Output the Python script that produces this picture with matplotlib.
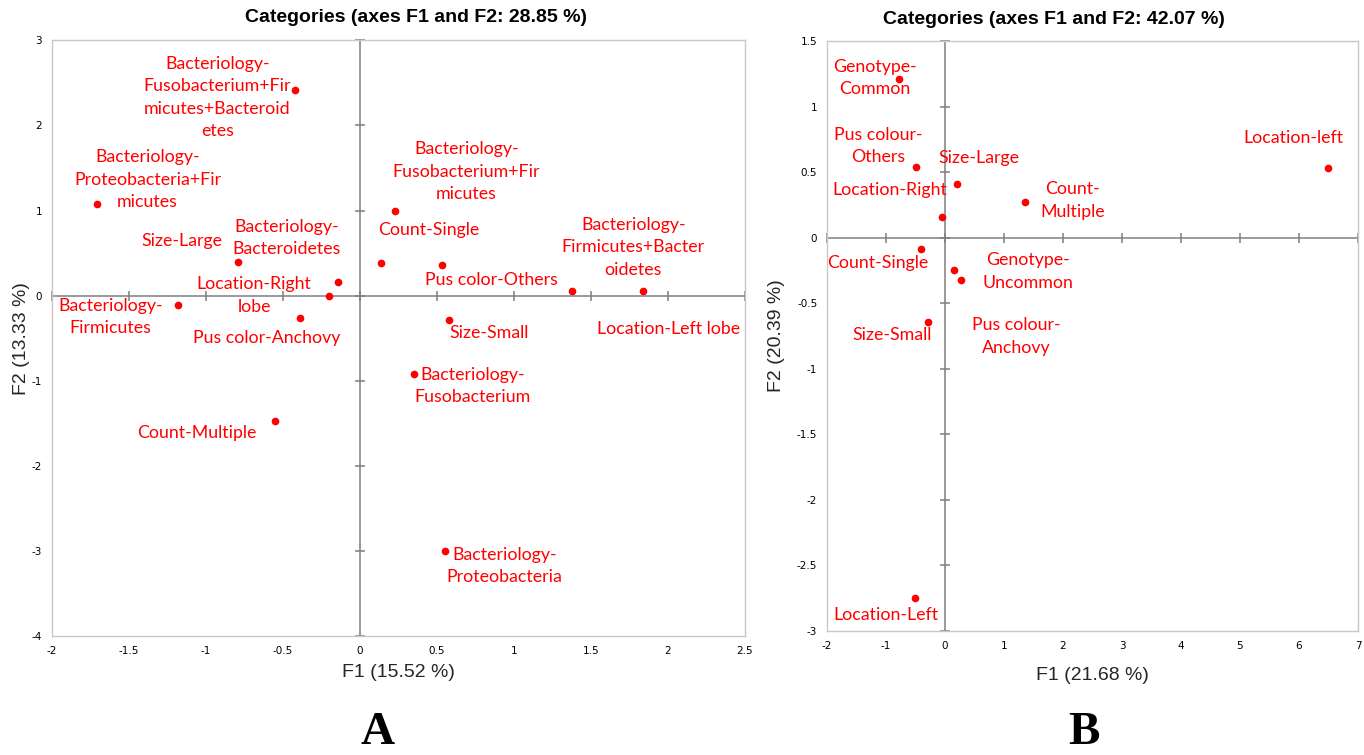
import numpy as np
import matplotlib
matplotlib.use("Agg")
import matplotlib.pyplot as plt

# panel A: category coordinates
labels_a = ["Bacteriology-\nFusobacterium+Fir\nmicutes+Bacteroid\netes",
            "Bacteriology-\nProteobacteria+Fir\nmicutes",
            "Size-Large",
            "Bacteriology-\nBacteroidetes",
            "Location-Right\nlobe",
            "Pus color-Anchovy",
            "Bacteriology-\nFirmicutes",
            "Count-Multiple",
            "Bacteriology-\nFusobacterium+Fir\nmicutes",
            "Count-Single",
            "Pus color-Others",
            "Bacteriology-\nFirmicutes+Bacter\noidetes",
            "Location-Left lobe",
            "Size-Small",
            "Bacteriology-\nFusobacterium",
            "Bacteriology-\nProteobacteria"]
f1_a = [-0.42, -1.71, -0.79, -0.14, -0.20, -0.39, -1.18, -0.55,
        0.23, 0.14, 0.53, 1.38, 1.84, 0.58, 0.35, 0.55]
f2_a = [2.42, 1.08, 0.40, 0.16, -0.01, -0.26, -0.11, -1.47,
        1.00, 0.38, 0.36, 0.05, 0.05, -0.29, -0.92, -3.00]

# panel B
labels_b = ["Genotype-\nCommon", "Pus colour-\nOthers", "Size-Large",
            "Location-Right", "Count-\nMultiple", "Location-left",
            "Count-Single", "Genotype-\nUncommon", "Pus colour-\nAnchovy",
            "Size-Small", "Location-Left"]
f1_b = [-0.78, -0.49, 0.20, -0.05, 1.36, 6.50, -0.41, 0.15, 0.27, -0.29, -0.51]
f2_b = [1.21, 0.54, 0.41, 0.16, 0.27, 0.53, -0.09, -0.25, -0.32, -0.64, -2.75]

# label placement (pixel offsets from the point)
off_a = [(-78, -8), (51, 24), (-56, 21), (-52, 44), (-75, 1), (-33, -20),
         (-68, -12), (-78, -12), (71, 39), (47, 33), (50, -15), (61, 44),
         (25, -38), (40, -13), (59, -12), (60, -15)]
off_b = [(-24, 1), (-38, 21), (22, 26), (-52, 27), (47, 2), (-35, 30),
         (-43, -14), (74, -1), (55, -57), (-36, -13), (-29, -17)]

W, H = 1364, 755


def panel(ax, x, y, labels, offs, xlim, ylim, xticks, yticks, xl, yl, xlab_y, ylab_x):
    ax.set_xlim(xlim)
    ax.set_ylim(ylim)
    ax.set_xticks(xticks)
    ax.set_yticks(yticks)
    ax.set_xticklabels([f"{v:g}" for v in xticks])
    ax.set_yticklabels([f"{v:g}" for v in yticks])
    ax.tick_params(length=0, labelsize=7.5, pad=7)
    for s in ax.spines.values():
        s.set_color("#c8c8c8")
        s.set_linewidth(1.0)
    ax.axhline(0, color="#7f7f7f", lw=1.1, zorder=1)
    ax.axvline(0, color="#7f7f7f", lw=1.1, zorder=1)
    # crosshair tick marks
    ax.plot(np.zeros(len(yticks)), yticks, ls="none", marker="_", ms=7,
            color="#7f7f7f", mew=1.1, clip_on=False, zorder=1)
    ax.plot(xticks, np.zeros(len(xticks)), ls="none", marker="|", ms=7,
            color="#7f7f7f", mew=1.1, clip_on=False, zorder=1)
    ax.plot(x, y, ls="none", marker="o", ms=4.5, color="#ff0000", zorder=3)
    for xi, yi, lab, (dx, dy) in zip(x, y, labels, offs):
        ax.annotate(lab, (xi, yi), xytext=(dx, dy), textcoords="offset pixels",
                    ha="center", va="center", color="#ff0000", fontsize=12.8,
                    family="Lato", linespacing=1.5)
    ax.set_xlabel(xl, fontsize=14, family="Liberation Sans", color="#262626")
    ax.set_ylabel(yl, fontsize=14, family="Liberation Sans", color="#262626")
    ax.xaxis.set_label_coords(0.5, xlab_y)
    ax.yaxis.set_label_coords(ylab_x, 0.5)


fig = plt.figure(figsize=(W / 100, H / 100), dpi=100)
ax1 = fig.add_axes([0.0381, 0.1576, 0.508, 0.789])
ax2 = fig.add_axes([0.6063, 0.1642, 0.3893, 0.7815])

panel(ax1, f1_a, f2_a, labels_a, off_a, (-2, 2.5), (-4, 3),
      [-2, -1.5, -1, -0.5, 0, 0.5, 1, 1.5, 2, 2.5], [-4, -3, -2, -1, 0, 1, 2, 3],
      "F1 (15.52 %)", "F2 (13.33 %)", -0.047, -0.0317)
panel(ax2, f1_b, f2_b, labels_b, off_b, (-2, 7), (-3, 1.5),
      [-2, -1, 0, 1, 2, 3, 4, 5, 6, 7],
      [-3, -2.5, -2, -1.5, -1, -0.5, 0, 0.5, 1, 1.5],
      "F1 (21.68 %)", "F2 (20.39 %)", -0.061, -0.079)

fig.text(416 / W, 1 - 18 / H, "Categories (axes F1 and F2: 28.85 %)",
         ha="center", va="center", fontsize=14, fontweight="bold",
         family="Liberation Sans")
fig.text(1054 / W, 1 - 19 / H, "Categories (axes F1 and F2: 42.07 %)",
         ha="center", va="center", fontsize=14, fontweight="bold",
         family="Liberation Sans")

fig.text(378 / W, 1 - 754 / H, "A", ha="center", va="bottom",
         fontsize=34, fontweight="bold", family="Liberation Serif")
fig.text(1084 / W, 1 - 754 / H, "B", ha="center", va="bottom",
         fontsize=34, fontweight="bold", family="Liberation Serif")

fig.savefig("out.png", dpi=100)
